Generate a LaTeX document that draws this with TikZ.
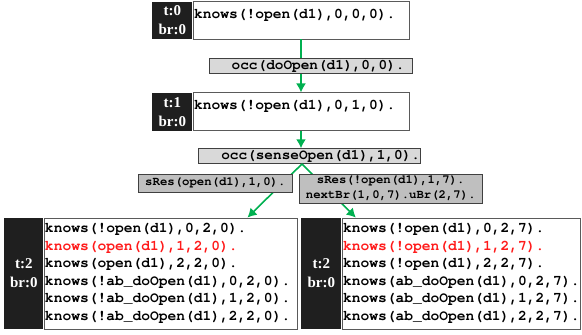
\documentclass[tikz,border=0pt]{standalone}
\usepackage{fontspec}
\setmainfont{Liberation Serif}
\setmonofont{TeX Gyre Cursor}
\usetikzlibrary{positioning,arrows.meta,shadows}

\definecolor{flowgreen}{HTML}{00B050}
\definecolor{tagblack}{HTML}{1F1F1F}
\definecolor{actgray}{HTML}{D9D9D9}
\definecolor{resgray}{HTML}{BFBFBF}
\definecolor{edgegray}{HTML}{5A5A5A}
\definecolor{hotred}{HTML}{FF1A1A}

\tikzstyle{state} = [draw=edgegray, fill=white, line width=0.8pt, inner xsep=1pt, inner ysep=0pt,
    align=left, font=\ttfamily\bfseries\fontsize{14.6}{17.5}\selectfont]
\tikzstyle{tag} = [fill=tagblack, text=white, inner sep=0pt, align=center,
    font=\rmfamily\bfseries\fontsize{15}{19}\selectfont]
\tikzstyle{act} = [draw=black!75, fill=actgray, line width=0.7pt, inner ysep=0pt, align=right,
    drop shadow={shadow xshift=0.8pt, shadow yshift=-0.8pt, fill=black!80, opacity=1},
    font=\ttfamily\bfseries\fontsize{14.4}{15}\selectfont]
\tikzstyle{res} = [act, fill=resgray, inner xsep=0pt, align=center,
    font=\ttfamily\bfseries\fontsize{12.3}{15}\selectfont]
\tikzstyle{line} = [draw=flowgreen, line width=1.6pt, -{Latex[length=9pt,width=10pt]}]

\begin{document}
\begin{tikzpicture}[x=1pt, y=-1pt]
    \useasboundingbox (0,0) rectangle (582,335);

    % time 0 and 1
    \node [state, text width=214pt, text height=17pt, text depth=20.5pt] (s0) at (301,20.3) {knows(!open(d1),0,0,0).};
    \node [tag, left=0pt of s0, text width=40pt, minimum height=37.5pt] (t0) {t:0\\br:0};
    \node [state, below=53pt of s0, text width=214pt, text height=16.5pt, text depth=21.5pt] (s1) {knows(!open(d1),0,1,0).};
    \node [tag, left=0pt of s1, text width=40pt, minimum height=38pt] (t1) {t:1\\br:0};
    \node [act, below=17pt of s1, xshift=8pt, inner xsep=0pt, text width=222pt, minimum height=15pt] (a1) {occ(senseOpen(d1),1,0).};
    \coordinate (fork) at ([xshift=-7pt]a1.south);

    % time 2, two branches
    \node [state, text width=251pt, minimum height=111pt] (s2a) at (170.5,273.5) {knows(!open(d1),0,2,0).\\
        \textcolor{hotred}{knows(open(d1),1,2,0).}\\
        knows(open(d1),2,2,0).\\
        knows(!ab\_doOpen(d1),0,2,0).\\
        knows(!ab\_doOpen(d1),1,2,0).\\
        knows(!ab\_doOpen(d1),2,2,0).};
    \node [tag, left=0pt of s2a, text width=39pt, minimum height=111pt] (t2a) {t:2\\br:0};
    \node [state, text width=236pt, minimum height=111pt] (s2b) at (461,273.5) {knows(!open(d1),0,2,7).\\
        \textcolor{hotred}{knows(!open(d1),1,2,7).}\\
        knows(!open(d1),2,2,7).\\
        knows(ab\_doOpen(d1),0,2,7).\\
        knows(ab\_doOpen(d1),1,2,7).\\
        knows(ab\_doOpen(d1),2,2,7).};
    \node [tag, left=0pt of s2b, text width=40pt, minimum height=111pt] (t2b) {t:2\\br:0};

    \path [line] (s0) -- node [act, xshift=10pt, inner xsep=8pt, text width=187pt, minimum height=15pt] (a0) {occ(doOpen(d1),0,0).} (s1);
    \path [line] (s1) -- (s1 |- a1.north);
    \path [line] (fork) -- node [res, pos=0.36, xshift=-67pt, minimum width=154pt, minimum height=18pt] (r0) {sRes(open(d1),1,0).} (s2a.36);
    \path [line] (fork) -- node [res, pos=0.46, xshift=64pt, minimum width=183pt, minimum height=29pt] (r1) {sRes(!open(d1),1,7).\\nextBr(1,0,7).uBr(2,7).} (s2b.152);
\end{tikzpicture}
\end{document}
